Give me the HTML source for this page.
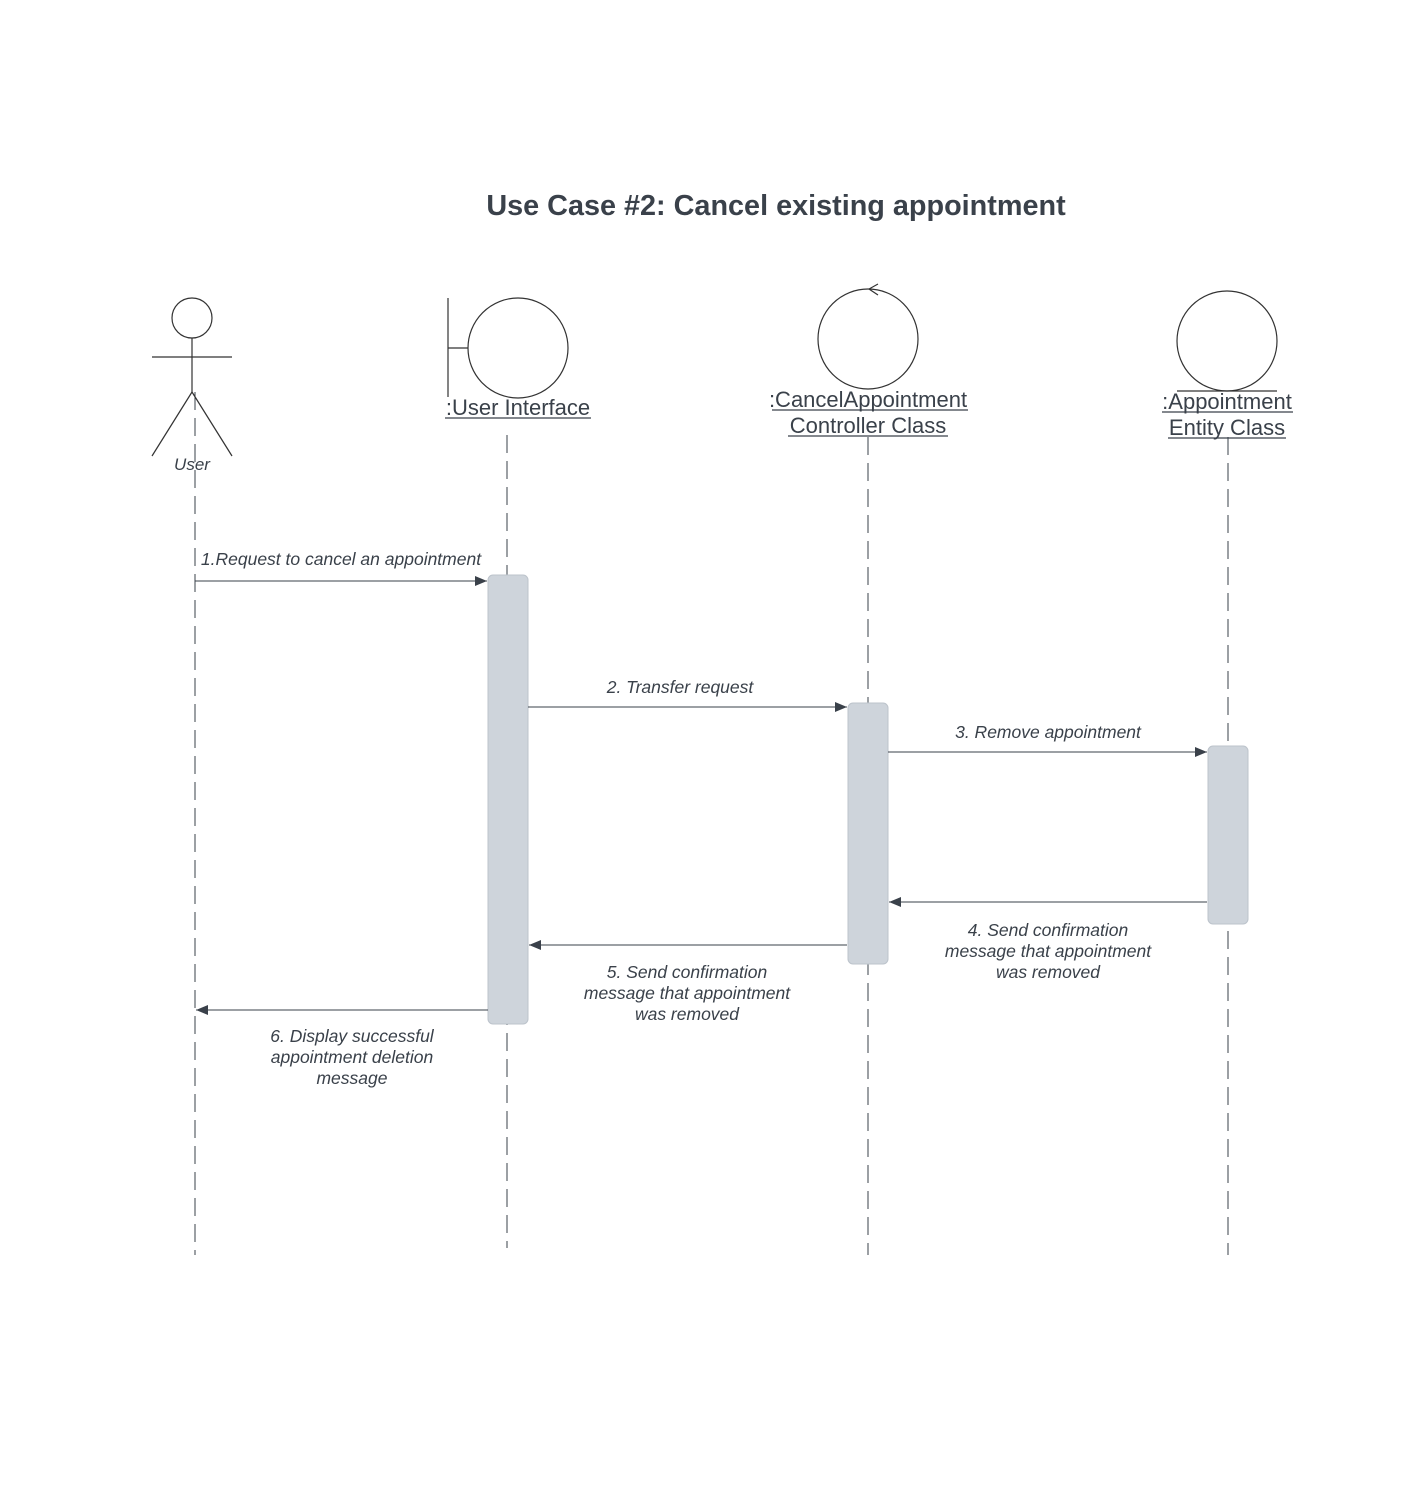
<!DOCTYPE html>
<html><head><meta charset="utf-8"><style>
html,body{margin:0;padding:0;background:#fff;}
svg{display:block;}
text{font-family:"Liberation Sans",sans-serif;fill:#3a414a;}
</style></head><body>
<svg width="1409" height="1488" viewBox="0 0 1409 1488" xmlns="http://www.w3.org/2000/svg">
<defs>
<marker id="a" markerWidth="12" markerHeight="10" refX="12" refY="5" orient="auto" markerUnits="userSpaceOnUse">
<path d="M0,0 L12,5 L0,10 Z" fill="#3a414a"/></marker>
</defs>
<text x="776" y="215" font-size="28.8" font-weight="bold" text-anchor="middle">Use Case #2: Cancel existing appointment</text>

<g stroke="#3a414a" stroke-width="1" stroke-dasharray="18,8" fill="none">
<line x1="195" y1="392" x2="195" y2="1255"/>
<line x1="507" y1="435" x2="507" y2="1248"/>
<line x1="868" y1="437" x2="868" y2="1255"/>
<line x1="1228" y1="437" x2="1228" y2="1255"/>
</g>

<g stroke="#333" stroke-width="1.2" fill="none">
<circle cx="192" cy="318" r="20"/>
<line x1="192" y1="338" x2="192" y2="392"/>
<line x1="152" y1="357" x2="232" y2="357"/>
<line x1="192" y1="392" x2="152" y2="456"/>
<line x1="192" y1="392" x2="232" y2="456"/>
</g>
<text x="192" y="470" font-size="17" font-style="italic" text-anchor="middle">User</text>

<g stroke="#333" stroke-width="1.2" fill="none">
<circle cx="518" cy="348" r="50"/>
<line x1="448" y1="298" x2="448" y2="397"/>
<line x1="448" y1="348" x2="468" y2="348"/>
</g>
<text x="518" y="415" font-size="22" text-anchor="middle">:User Interface</text>
<line x1="445" y1="418" x2="591" y2="418" stroke="#3a414a" stroke-width="1.3"/>

<g stroke="#333" stroke-width="1.2" fill="none">
<circle cx="868" cy="339" r="50"/>
<polyline points="878,284 869,289 878,295"/>
</g>
<text x="868" y="407" font-size="22" text-anchor="middle">:CancelAppointment</text>
<text x="868" y="433" font-size="22" text-anchor="middle">Controller Class</text>
<line x1="772" y1="410" x2="968" y2="410" stroke="#3a414a" stroke-width="1.3"/>
<line x1="788" y1="436" x2="948" y2="436" stroke="#3a414a" stroke-width="1.3"/>

<g stroke="#333" stroke-width="1.2" fill="none">
<circle cx="1227" cy="341" r="50"/>
<line x1="1177" y1="391" x2="1277" y2="391"/>
</g>
<text x="1227" y="409" font-size="22" text-anchor="middle">:Appointment</text>
<text x="1227" y="435" font-size="22" text-anchor="middle">Entity Class</text>
<line x1="1162" y1="412" x2="1293" y2="412" stroke="#3a414a" stroke-width="1.3"/>
<line x1="1168" y1="438" x2="1286" y2="438" stroke="#3a414a" stroke-width="1.3"/>

<g fill="#ced4db" stroke="#bcc3cb" stroke-width="1">
<rect x="488" y="575" width="40" height="449" rx="5"/>
<rect x="848" y="703" width="40" height="261" rx="5"/>
<rect x="1208" y="746" width="40" height="178" rx="5"/>
</g>

<g stroke="#3a414a" stroke-width="1" marker-end="url(#a)">
<line x1="195" y1="581" x2="487" y2="581"/>
<line x1="528" y1="707" x2="847" y2="707"/>
<line x1="888" y1="752" x2="1207" y2="752"/>
<line x1="1207" y1="902" x2="889" y2="902"/>
<line x1="847" y1="945" x2="529" y2="945"/>
<line x1="488" y1="1010" x2="196" y2="1010"/>
</g>
<g font-size="17.5" font-style="italic" text-anchor="middle">
<text x="341" y="565">1.Request to cancel an appointment</text>
<text x="680" y="693">2. Transfer request</text>
<text x="1048" y="738">3. Remove appointment</text>
<text x="1048" y="936">4. Send confirmation</text>
<text x="1048" y="957">message that appointment</text>
<text x="1048" y="978">was removed</text>
<text x="687" y="978">5. Send confirmation</text>
<text x="687" y="999">message that appointment</text>
<text x="687" y="1020">was removed</text>
<text x="352" y="1042">6. Display successful</text>
<text x="352" y="1063">appointment deletion</text>
<text x="352" y="1084">message</text>
</g>
</svg>
</body></html>
